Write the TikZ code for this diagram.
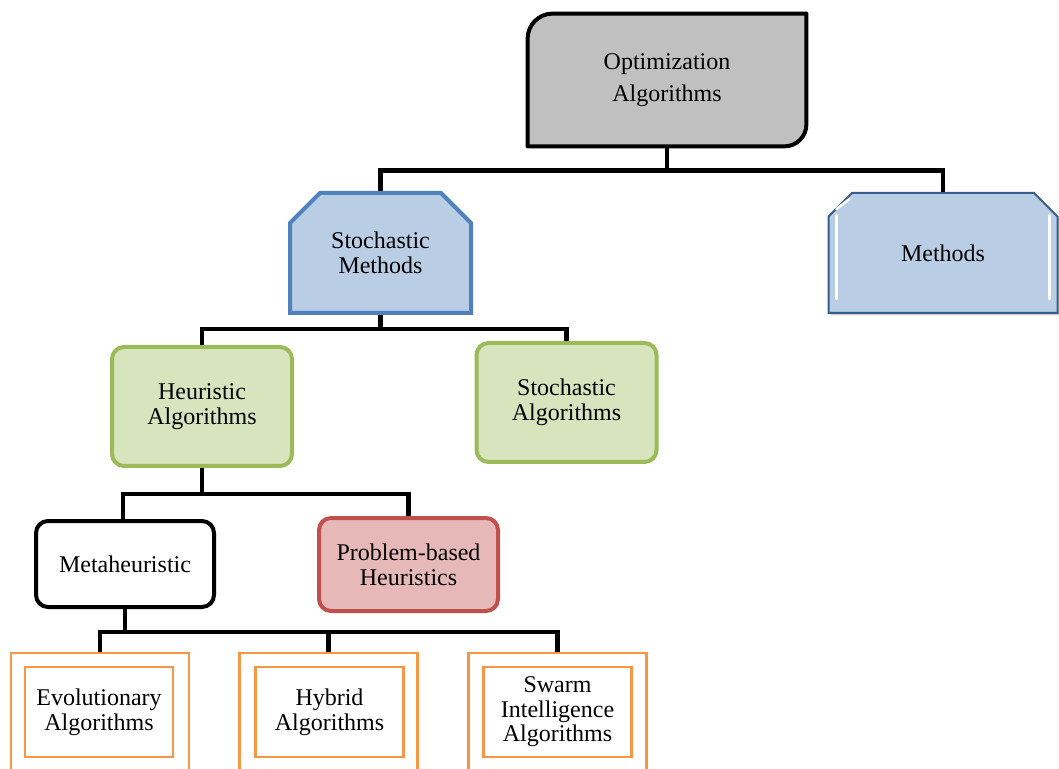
\documentclass[tikz,border=0pt]{standalone}
\usepackage{fontspec}
\setmainfont{Liberation Serif}
\usepackage{xcolor}
\usetikzlibrary{shapes.misc, backgrounds, shadows, positioning}

\definecolor{optGray}{HTML}{C0C0C0}
\definecolor{blueFill}{HTML}{B9CDE5}
\definecolor{blueLine}{HTML}{4F81BD}
\definecolor{darkBlue}{HTML}{385D8A}
\definecolor{greenFill}{HTML}{D7E4BD}
\definecolor{greenLine}{HTML}{9BBB59}
\definecolor{redFill}{HTML}{E6B9B8}
\definecolor{redLine}{HTML}{C0504D}
\definecolor{orangeLine}{HTML}{F79646}

\begin{document}
\begin{tikzpicture}[x=0.5pt, y=-0.5pt,
    every node/.style={font=\fontsize{12}{12.5}\selectfont, align=center, inner sep=0pt},
    link/.style={line width=2.2pt},
    chamferBox/.style={chamfered rectangle, chamfered rectangle corners={north west, north east},
        chamfered rectangle sep=7.5pt, minimum width=90.5pt, minimum height=60pt},
    greenBox/.style={rectangle, rounded corners=6pt, fill=greenFill, draw=greenLine, line width=2pt,
        minimum width=90pt, minimum height=59.5pt},
    outerBox/.style={rectangle, draw=orangeLine, line width=1.2pt, minimum width=89pt, minimum height=65pt},
    innerBox/.style={rectangle, draw=orangeLine, line width=1.2pt, minimum width=74pt, minimum height=45pt,
        font=\fontsize{12}{12.3}\selectfont}
]
    \useasboundingbox (0,0) rectangle (1059,769);

    % Top of the tree
    \node[minimum width=139pt, minimum height=66pt, font=\fontsize{12}{16}\selectfont] (opt) at (667,80) {Optimization\\Algorithms};
    \begin{scope}[on background layer]
        \draw[fill=optGray, line width=2pt, line join=round]
            (opt.south west) -- ([yshift=-12.5pt]opt.north west)
            arc[start angle=180, end angle=90, radius=12.5pt]
            -- (opt.north east) -- ([yshift=11pt]opt.south east)
            arc[start angle=0, end angle=-90, radius=11pt] -- cycle;
    \end{scope}

    % Second level
    \node[chamferBox, fill=blueFill, draw=blueLine, line width=2pt] (stm) at (380.5,253) {Stochastic\\Methods};
    \node[chamferBox, chamfered rectangle xsep=10pt, minimum width=114.5pt, fill=blueFill, draw=darkBlue, line width=1pt,
        drop shadow={opacity=0.35, shadow xshift=1pt, shadow yshift=-1.2pt}] (met) at (943,253) {Methods};
    % bevel highlights
    \draw[white, line width=1.3pt, line cap=round] ([xshift=4.5pt, yshift=19pt]met.west) -- ([xshift=4.5pt, yshift=-23pt]met.west);
    \draw[white, line width=1.3pt, line cap=round] ([xshift=-4.5pt, yshift=19pt]met.east) -- ([xshift=-4.5pt, yshift=-23pt]met.east);
    \draw[white, line width=1.3pt, line cap=round] ([xshift=4.5pt, yshift=22pt]met.west) -- ([xshift=11pt, yshift=27pt]met.west);

    % Third level
    \node[greenBox] (heu) at (202,406.5) {Heuristic\\Algorithms};
    \node[greenBox] (sta) at (566.5,402.5) {Stochastic\\Algorithms};

    % Fourth level
    \node[rectangle, rounded corners=6pt, draw=black, fill=white, line width=2pt,
        minimum width=89pt, minimum height=43pt] (meta) at (125,564) {Metaheuristic};
    \node[rectangle, rounded corners=6pt, draw=redLine, fill=redFill, line width=2pt,
        minimum width=89.5pt, minimum height=46.5pt] (pbh) at (408.5,564.5) {Problem-based\\Heuristics};

    % Bottom level
    \node[outerBox] (evoOut) at (100,718) {};
    \node[innerBox] (evo) at (99,712) {Evolutionary\\Algorithms};
    \node[outerBox] (hybOut) at (328.5,718) {};
    \node[innerBox] (hyb) at (329.5,712) {Hybrid\\Algorithms};
    \node[outerBox] (swaOut) at (557.5,718) {};
    \node[innerBox] (swa) at (557.5,712) {Swarm\\Intelligence\\Algorithms};

    % Connectors
    \coordinate (j1) at ([yshift=-12pt]opt.south);
    \draw[link] (opt.south) -- (j1);
    \draw[link] (stm.north) |- (j1) -| (met.north);

    \coordinate (j2) at ([yshift=-7pt]stm.south);
    \draw[link] (stm.south) -- (j2);
    \draw[link] (heu.north) |- (j2) -| (sta.north);

    \coordinate (j3) at ([yshift=-13pt]heu.south);
    \draw[link] (heu.south) -- (j3);
    \draw[link] ([xshift=-39.5pt]heu.south |- meta.north) |- (j3) -| (pbh.north);

    \coordinate (j4) at ([yshift=-11.5pt]meta.south);
    \draw[link] (meta.south) -- (j4);
    \draw[link] (evoOut.north) |- (j4) -| (swaOut.north);
    \draw[link] (hybOut.north) -- (hybOut.north |- j4);
\end{tikzpicture}
\end{document}
